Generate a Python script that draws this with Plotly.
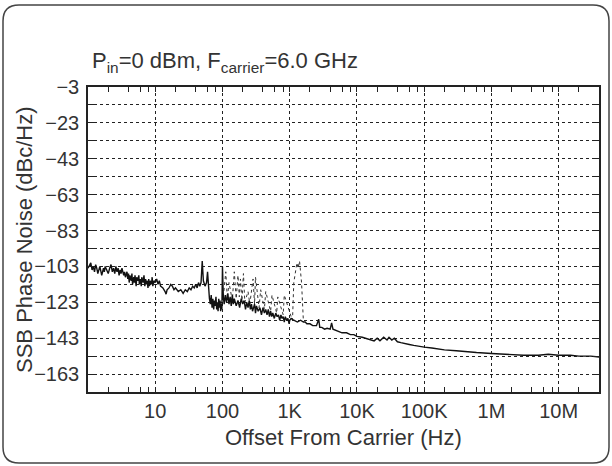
import plotly.graph_objects as go

# ---------------- data ----------------
freq_hz = [1.0, 1.05, 1.1, 1.15, 1.2, 1.25, 1.3, 1.35, 1.4, 1.5, 1.55, 1.6, 1.7, 1.75, 1.8, 1.9,
           2.0, 2.1, 2.2, 2.3, 2.4, 2.5, 2.6, 2.7, 2.8, 2.9, 3.0, 3.1, 3.2, 3.4, 3.5, 3.6,
           3.8, 3.9, 4.0, 4.1, 4.2, 4.4, 4.5, 4.6, 4.8, 4.9, 5.0, 5.2, 5.3, 5.5, 5.7, 5.8,
           6.0, 6.2, 6.3, 6.6, 6.8, 7.0, 7.2, 7.3, 7.6, 7.8, 8.0, 8.2, 8.4, 8.8, 9.0, 9.2,
           9.6, 10, 10.5, 11, 11.5, 12, 13, 14, 14.5, 15, 16, 17, 18, 19, 20, 22,
           24, 26, 28, 30, 32, 34, 36, 38, 40, 42, 44, 46, 48, 50, 52, 55,
           58, 60, 62, 64, 66, 68, 70, 72, 74, 76, 78, 80, 82, 84, 86, 88,
           90, 92, 94, 96, 98, 100, 103, 106, 110, 115, 120, 125, 130, 135, 140, 145,
           150, 160, 170, 180, 190, 200, 210, 220, 230, 240, 250, 260, 270, 280, 300, 310,
           320, 340, 360, 380, 400, 420, 440, 460, 480, 500, 520, 540, 560, 590, 620, 650,
           680, 710, 740, 770, 800, 830, 860, 900, 940, 980, 1000, 1050, 1150, 1300, 1450, 1600,
           1700, 1800, 2000, 2200, 2500, 2700, 2800, 3000, 3300, 3600, 4000, 4200, 4400, 5000,
           6000, 7000, 8000, 9000, 10000, 12000, 15000, 18000, 20000, 22000, 25000, 28000,
           30000, 33000, 36000, 40000, 45000, 50000, 60000, 70000, 80000, 100000, 130000,
           160000, 200000, 300000, 400000, 600000, 1e6, 1.5e6, 2e6, 3e6, 5e6, 7e6, 1e7,
           1.5e7, 2e7, 3e7, 4e7]
noise_dbc = [-104, -102, -101, -105, -103, -106, -102, -104, -107, -103, -105, -108, -104, -106, -103, -105,
             -107, -104, -102, -106, -104, -107, -103, -106, -104, -108, -105, -107, -104, -108, -106, -109,
             -106, -110, -107, -112, -108, -111, -107, -113, -109, -112, -108, -114, -109, -111, -108, -113,
             -110, -114, -109, -112, -108, -114, -110, -113, -111, -115, -110, -114, -111, -113, -109, -114,
             -111, -112, -110, -113, -111, -114, -115, -117, -118.5, -116, -115, -113, -114, -116, -115, -117,
             -116, -118, -116, -117, -115, -116, -114, -115, -113, -115, -112, -114, -112, -100, -111, -114,
             -112, -106, -117, -121, -124, -119, -126, -121, -127, -122, -125, -120, -127, -123, -128, -121,
             -126, -122, -128, -124, -127, -103, -120, -124, -119, -123, -118, -124, -120, -125, -119, -124,
             -121, -125, -122, -126, -121, -124, -122, -127, -123, -126, -122, -127, -124, -128, -124, -129,
             -125, -128, -126, -130, -126, -129, -127, -130, -127, -131, -128, -131, -129, -132, -129, -131,
             -130, -133, -130, -132, -131, -134, -131, -133, -132, -135, -133, -132, -133, -134, -133, -134,
             -134, -135, -135, -136, -136, -132.5, -137, -137, -138, -137.5, -138, -134.5, -138, -139,
             -140, -140, -141, -141, -142, -142.5, -143.5, -144.5, -143, -144.5, -142.5, -144,
             -142.5, -144, -143, -145, -145.5, -146, -146.5, -147, -147.5, -148, -148.5,
             -149, -149.5, -150, -150.5, -151, -151.5, -152, -152, -152.5, -152.5, -152, -152.5,
             -152.5, -153, -153, -153.5]

# discrete spurs (drawn lighter / dotted in the original)
spur_hz = [103, 112, 118, 125, 140, 150, 160, 170, 178, 185, 195, 205,
           215, 240, 255, 285, 300, 310, 350, 370, 420, 440, 520, 545,
           640, 665, 800, 830, 1050, 1100, 1150, 1280, 1330, 1400, 1500, 1600]
spur_dbc = [-120, -106, -121, -112, -122, -106, -121, -108, -120, -110, -122, -107,
            -123, -117, -124, -110, -124, -109, -126, -116, -127, -117, -128, -119,
            -129, -120, -130, -119, -131, -133, -112, -101, -104, -100, -112, -134]

x_tickvals = [10, 100, 1000, 1e4, 1e5, 1e6, 1e7]
x_ticktext = ["10", "100", "1K", "10K", "100K", "1M", "10M"]
x_minor = [m * 10 ** d for d in range(0, 8) for m in (2, 4, 6, 8)]
y_tickvals = [-3, -23, -43, -63, -83, -103, -123, -143, -163]
y_minor = [-13, -33, -53, -73, -93, -113, -133, -153, -173]

# --------------- layout geometry (pixels) ---------------
W, H = 612, 466
L, R, T, B = 88, 599, 87, 392


def px(x):
    return (x - L) / (R - L)


def py(y):
    return (B - y) / (B - T)


FONT = "Liberation Sans, Arial, sans-serif"
TXT = "#333333"
INK = "#222222"

fig = go.Figure()
fig.add_trace(go.Scatter(x=spur_hz, y=spur_dbc, mode="lines",
                         line=dict(color="#333333", width=1, dash="dot"),
                         hoverinfo="skip", showlegend=False))
fig.add_trace(go.Scatter(x=freq_hz, y=noise_dbc, mode="lines",
                         line=dict(color="#111111", width=1.4),
                         showlegend=False))

# rounded frame
x0, x1, y0, y1, r = 3, 609, 5, 463, 16


def P(x, y):
    return f"{px(x):.5f},{py(y):.5f}"


path = (f"M {P(x0 + r, y0)} L {P(x1 - r, y0)} Q {P(x1, y0)} {P(x1, y0 + r)} "
        f"L {P(x1, y1 - r)} Q {P(x1, y1)} {P(x1 - r, y1)} "
        f"L {P(x0 + r, y1)} Q {P(x0, y1)} {P(x0, y1 - r)} "
        f"L {P(x0, y0 + r)} Q {P(x0, y0)} {P(x0 + r, y0)} Z")
fig.add_shape(type="path", path=path, xref="paper", yref="paper",
              line=dict(color="#444444", width=1.5), layer="below")

fig.add_annotation(text="P<sub>in</sub>=0 dBm, F<sub>carrier</sub>=6.0 GHz",
                   x=px(90), y=py(62), xref="paper", yref="paper",
                   xanchor="left", yanchor="middle", showarrow=False,
                   font=dict(family=FONT, size=22, color=TXT))
fig.add_annotation(text="SSB Phase Noise (dBc/Hz)", textangle=-90,
                   x=px(24), y=py(240), xref="paper", yref="paper",
                   xanchor="center", yanchor="middle", showarrow=False,
                   font=dict(family=FONT, size=22, color=TXT))
fig.add_annotation(text="Offset From Carrier (Hz)",
                   x=0.5, y=py(437), xref="paper", yref="paper",
                   xanchor="center", yanchor="middle", showarrow=False,
                   font=dict(family=FONT, size=22, color=TXT))

fig.update_layout(
    width=W, height=H,
    margin=dict(l=L, r=W - R, t=T, b=H - B, pad=0),
    paper_bgcolor="white", plot_bgcolor="white",
    showlegend=False,
    font=dict(family=FONT, size=20, color=TXT),
    xaxis=dict(type="log", range=[0, 7.6], showline=True, linecolor=INK, linewidth=1.5,
               mirror="ticks", ticks="inside", ticklen=5, tickcolor=INK,
               tickvals=x_tickvals, ticktext=x_ticktext,
               showgrid=True, gridcolor=INK, griddash="dot", gridwidth=1,
               zeroline=False, ticklabelstandoff=0,
               minor=dict(tickmode="array", tickvals=x_minor, ticks="inside", ticklen=5,
                          tickcolor=INK, showgrid=False)),
    yaxis=dict(range=[-173, -3], showline=True, linecolor=INK, linewidth=1.5,
               mirror="ticks", ticks="inside", ticklen=6, tickcolor=INK,
               tickvals=y_tickvals,
               showgrid=True, gridcolor=INK, griddash="dot", gridwidth=1,
               zeroline=False, ticklabelstandoff=3,
               minor=dict(tickmode="array", tickvals=y_minor, ticks="inside", ticklen=6,
                          tickcolor=INK, showgrid=True, gridcolor=INK,
                          griddash="dot", gridwidth=1)),
)

fig.write_html("out.html", config={"displayModeBar": False},
               post_script="document.body.style.margin='0';")
